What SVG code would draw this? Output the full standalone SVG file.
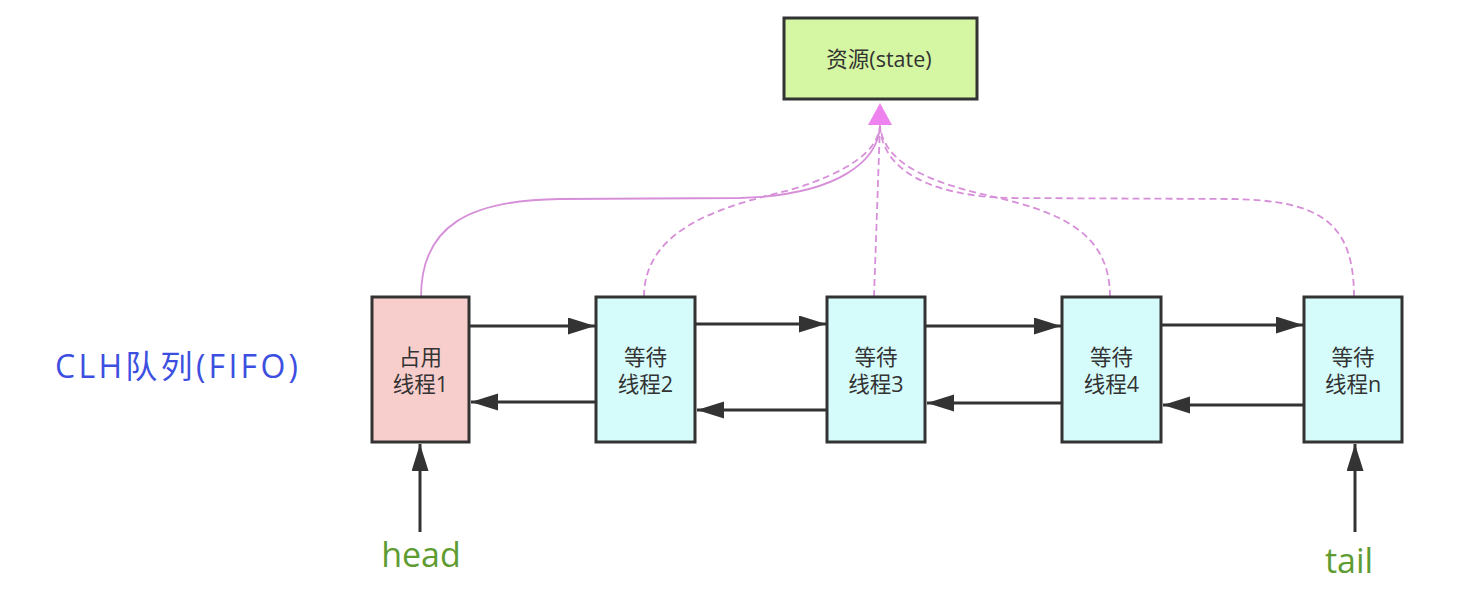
<svg xmlns="http://www.w3.org/2000/svg" width="1472" height="608" viewBox="0 0 1472 608">
<style>
.box{stroke:#333;stroke-width:3}
.thread{fill:#d6fbfb}
.lbl{font-family:"Open Sans","Noto Sans CJK SC",sans-serif;font-size:21.5px;fill:#333;text-anchor:middle}
.blk{stroke:#333;stroke-width:3;fill:none}
.vio{stroke:#d68fd8;stroke-width:1.8;fill:none}
.dash{stroke-dasharray:7 4}
.ptr{font-family:"Open Sans","Noto Sans CJK SC",sans-serif;font-size:34px;fill:#5e9c32;text-anchor:middle}
</style>
<defs>
<marker id="ah" markerUnits="userSpaceOnUse" markerWidth="28" markerHeight="18" refX="27" refY="8.5" orient="auto">
<path d="M0,0 L27,8.5 L0,17 z" fill="#333"/>
</marker>
<marker id="vh" markerUnits="userSpaceOnUse" markerWidth="24" markerHeight="26" refX="0" refY="12" orient="270">
<path d="M0,0 L22,12 L0,24 z" fill="#ee82ee"/>
</marker>
</defs>
<rect width="1472" height="608" fill="#fff"/>
<g id="connectors">
<path class="vio" d="M421 297 C421 225 470 200 560 199 L740 198 C840 195 878 160 880 126"/>
<path class="vio dash" d="M644 297 C644 225 730 205 790 190 C850 172 878 150 880 126"/>
<path class="vio dash" d="M874 297 L880 125" marker-end="url(#vh)"/>
<path class="vio dash" d="M1110 297 C1110 232 1060 212 990 196 C920 180 884 160 880 126"/>
<path class="vio dash" d="M1354 297 C1354 222 1320 200 1230 199 L1010 198 C930 196 882 170 880 126"/>
<line class="blk" x1="470" y1="326" x2="595" y2="326" marker-end="url(#ah)"/>
<line class="blk" x1="696" y1="324" x2="826" y2="324" marker-end="url(#ah)"/>
<line class="blk" x1="926" y1="326" x2="1061" y2="326" marker-end="url(#ah)"/>
<line class="blk" x1="1162" y1="325" x2="1303" y2="325" marker-end="url(#ah)"/>
<line class="blk" x1="595" y1="402" x2="471" y2="402" marker-end="url(#ah)"/>
<line class="blk" x1="826" y1="410" x2="697" y2="410" marker-end="url(#ah)"/>
<line class="blk" x1="1061" y1="403" x2="927" y2="403" marker-end="url(#ah)"/>
<line class="blk" x1="1303" y1="405" x2="1163" y2="405" marker-end="url(#ah)"/>
<line class="blk" x1="420" y1="532" x2="420" y2="444" marker-end="url(#ah)"/>
<line class="blk" x1="1355" y1="532" x2="1355" y2="444" marker-end="url(#ah)"/>
</g>
<g id="state">
<rect class="box" x="784" y="18" width="193" height="81" fill="#d5f6a2"/>
<text class="lbl" x="879" y="67" font-size="24">资源(state)</text>
</g>
<g id="t1">
<rect class="box" x="372" y="297" width="97" height="145" fill="#f8cecc"/>
<text class="lbl" x="420.5" y="365">占用</text>
<text class="lbl" x="420.5" y="392">线程1</text>
</g>
<g id="t2">
<rect class="box thread" x="596" y="297" width="99" height="145"/>
<text class="lbl" x="645.5" y="365">等待</text>
<text class="lbl" x="645.5" y="392">线程2</text>
</g>
<g id="t3">
<rect class="box thread" x="827" y="297" width="98" height="145"/>
<text class="lbl" x="876" y="365">等待</text>
<text class="lbl" x="876" y="392">线程3</text>
</g>
<g id="t4">
<rect class="box thread" x="1062" y="297" width="99" height="145"/>
<text class="lbl" x="1111.5" y="365">等待</text>
<text class="lbl" x="1111.5" y="392">线程4</text>
</g>
<g id="tn">
<rect class="box thread" x="1304" y="297" width="98" height="145"/>
<text class="lbl" x="1353" y="365">等待</text>
<text class="lbl" x="1353" y="392">线程n</text>
</g>
<g id="queue">
<text x="55" y="378" font-family="Open Sans, Noto Sans CJK SC, sans-serif" font-size="32" fill="#3d4fe0" textLength="243" lengthAdjust="spacing">CLH队列(FIFO)</text>
</g>
<g id="head"><text class="ptr" x="421" y="567">head</text></g>
<g id="tail"><text class="ptr" x="1349" y="573">tail</text></g>
</svg>
